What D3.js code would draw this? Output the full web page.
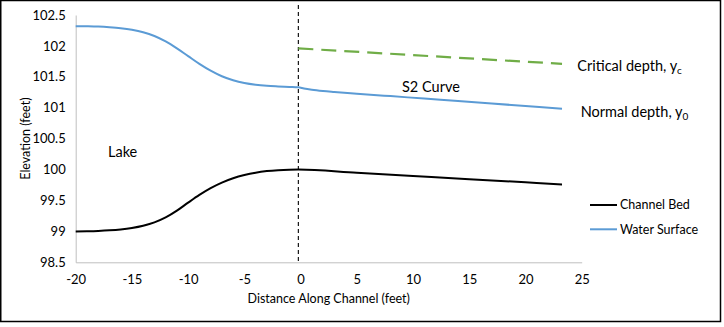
<!DOCTYPE html>
<html><head><meta charset="utf-8">
<script src="https://cdn.jsdelivr.net/npm/d3@7"></script>
<style>
body{margin:0;background:#fff}
text{font-family:Lato,"Liberation Sans",sans-serif;fill:#000}
</style>
</head><body><svg id="c" width="724" height="327"></svg>
<script>
// ---- data ----
const xTicks = [-20,-15,-10,-5,0,5,10,15,20,25];
const yTicks = [98.5,99,99.5,100,100.5,101,101.5,102,102.5];

const bedX = [-20,-19,-18,-17,-16,-15,-14,-13,-12,-11,-10,-9,-8,-7,-6,-5,-4,-3,-2,-1,-0.2,5,10,15,20,23.25];
const bedY = [99.000,99.003,99.008,99.017,99.032,99.056,99.092,99.145,99.225,99.335,99.465,99.590,99.700,99.790,99.860,99.912,99.950,99.975,99.990,99.998,100.0,99.947,99.896,99.845,99.793,99.76];

const waterX = [-20,-19,-18,-17,-16,-15,-14,-13,-12,-11,-10,-9,-8,-7,-6,-5,-4,-3,-2,-1,-0.2,0.3,1,2,3,5,8,11,14,17,20,23.25];
const waterY = [102.320,102.317,102.312,102.302,102.287,102.262,102.222,102.160,102.072,101.960,101.835,101.710,101.600,101.510,101.445,101.400,101.372,101.355,101.345,101.337,101.330,101.310,101.290,101.270,101.255,101.228,101.188,101.148,101.108,101.068,101.028,100.985];

const criticalX = [-0.2, 23.25];
const criticalY = [101.96, 101.71];

const dividerX = -0.2;

const legendLabels = ["Channel Bed","Water Surface"];
const legendColors = ["#000000","#5B9BD5"];

// ---- drawing ----
const svg = d3.select("#c");
const x = d3.scaleLinear().domain([-20,25]).range([75.7,581.7]);
const y = d3.scaleLinear().domain([98.5,102.5]).range([262.3,15]);

// border
svg.append("rect").attr("x",0.75).attr("y",0.5).attr("width",719.75).attr("height",321)
  .attr("fill","none").attr("stroke","#000").attr("stroke-width",1.5);

// axes
const gx = svg.append("g").attr("transform",`translate(0,${y(98.5)})`)
  .call(d3.axisBottom(x).tickValues(xTicks).tickSize(0).tickPadding(12).tickFormat(d=>String(d)));
const gy = svg.append("g").attr("transform",`translate(${x(-20)},0)`)
  .call(d3.axisLeft(y).tickValues(yTicks).tickSize(0).tickPadding(10).tickFormat(d=>String(d)));
[gx,gy].forEach(g=>{
  g.select(".domain").attr("stroke","#BFBFBF").attr("stroke-width",1);
  g.selectAll("text").attr("font-family","Lato").attr("font-size","13px").attr("fill","#000");
});

// axis titles
svg.append("text").attr("x",(x(-20)+x(25))/2).attr("y",302.5).attr("text-anchor","middle")
  .attr("font-size","12.5px").text("Distance Along Channel (feet)");
svg.append("text").attr("transform",`translate(29.5,${(y(98.5)+y(102.5))/2}) rotate(-90)`)
  .attr("text-anchor","middle").attr("font-size","12.5px").text("Elevation (feet)");

// divider
svg.append("line").attr("x1",x(dividerX)).attr("x2",x(dividerX)).attr("y1",5).attr("y2",y(98.5))
  .attr("stroke","#000").attr("stroke-width",1.1).attr("stroke-dasharray","4,3");

const line = d3.line().x(d=>x(d[0])).y(d=>y(d[1])).curve(d3.curveMonotoneX);

svg.append("path").datum(criticalX.map((v,i)=>[v,criticalY[i]]))
  .attr("d",d3.line().x(d=>x(d[0])).y(d=>y(d[1])))
  .attr("fill","none").attr("stroke","#70AD47").attr("stroke-width",2.2).attr("stroke-dasharray","15,8");

svg.append("path").datum(waterX.map((v,i)=>[v,waterY[i]])).attr("d",line)
  .attr("fill","none").attr("stroke","#5B9BD5").attr("stroke-width",2);
svg.append("path").datum(bedX.map((v,i)=>[v,bedY[i]])).attr("d",line)
  .attr("fill","none").attr("stroke","#000").attr("stroke-width",2);

// annotations
svg.append("text").attr("x",108).attr("y",157).attr("font-size","14.5px").text("Lake");
svg.append("text").attr("x",402).attr("y",92).attr("font-size","14.5px").text("S2 Curve");
function sub(xp, yp, main, s){
  const t = svg.append("text").attr("x",xp).attr("y",yp).attr("font-size","14.5px");
  t.append("tspan").text(main);
  t.append("tspan").attr("font-size","10px").attr("dy","3").text(s);
}
sub(577.3, 70.5, "Critical depth, y", "c");
sub(580.7, 116.5, "Normal depth, y", "0");

// legend
const lg = svg.append("g");
legendLabels.forEach((l,i)=>{
  const yy = 205 + i*24.3;
  lg.append("line").attr("x1",590).attr("x2",617).attr("y1",yy).attr("y2",yy)
    .attr("stroke",legendColors[i]).attr("stroke-width",2);
  lg.append("text").attr("x",620).attr("y",yy).attr("dy","0.35em").attr("font-size","12.5px").text(l);
});
</script></body></html>
